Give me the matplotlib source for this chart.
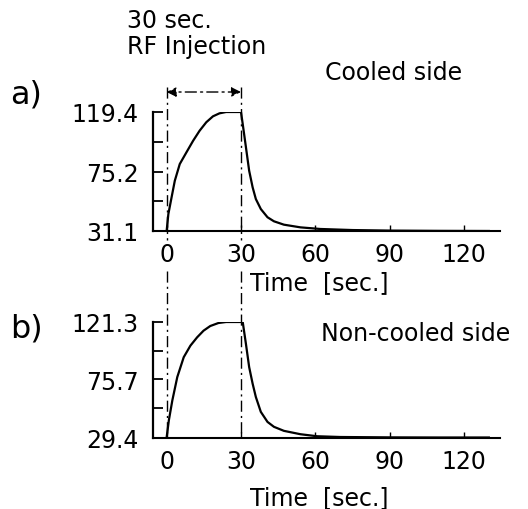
import matplotlib
matplotlib.use('Agg')
import matplotlib.pyplot as plt
from matplotlib.transforms import blended_transform_factory

# temperature traces
t_a = [0, 0.7, 2.0, 3.3, 5.3, 8, 10.7, 13.3, 16, 18.7, 21.3, 24, 30,
       30.7, 32, 33.3, 34.7, 36, 38, 40.7, 43.3, 47.3, 54, 62, 75, 90, 110, 130]
v_a = [31.1, 43.7, 56.1, 68.4, 80.8, 89.5, 98.1, 105.5, 111.8, 116.2, 118.4, 119.4, 119.4,
       110.5, 93.2, 75.8, 63.5, 54.8, 47.4, 41.3, 38.3, 35.8, 33.8, 32.6, 31.8, 31.4, 31.2, 31.1]

t_b = [0, 0.9, 2.3, 4.3, 6.9, 9.6, 12.3, 14.9, 17.6, 20.9, 24, 30.7,
       32, 33.3, 34.7, 36, 38, 40.7, 43.3, 47.3, 54, 60.7, 70, 90, 110, 130]
v_b = [29.4, 43.1, 58.9, 77.5, 93.3, 102.5, 109.1, 114.4, 118.1, 120.5, 121.3, 121.3,
       103.8, 85.4, 72.2, 61.6, 49.8, 41.8, 37.9, 34.7, 32.0, 30.4, 29.8, 29.5, 29.4, 29.4]

yticks_a = [31.1, 53.15, 75.2, 97.3, 119.4]
ylabels_a = ['31.1', '', '75.2', '', '119.4']
yticks_b = [29.4, 52.55, 75.7, 98.5, 121.3]
ylabels_b = ['29.4', '', '75.7', '', '121.3']
xticks = [0, 30, 60, 90, 120]

W, H = 528, 510
fig = plt.figure(figsize=(W / 100, H / 100), dpi=100)
plt.rcParams['font.family'] = 'DejaVu Sans'


def px(x0, y0, x1, y1):
    return [x0 / W, 1 - y1 / H, (x1 - x0) / W, (y1 - y0) / H]


ax_a = fig.add_axes(px(152.5, 113, 500, 232))
ax_b = fig.add_axes(px(152.5, 323, 500, 438.5))

panels = [(ax_a, t_a, v_a, yticks_a, ylabels_a, -0.33),
          (ax_b, t_b, v_b, yticks_b, ylabels_b, -0.41)]
for ax, t, v, yt, yl, ly in panels:
    ax.plot(t, v, color='black', lw=1.6)
    ax.set_xlim(-5.7, 134.5)
    ax.set_ylim(yt[0], yt[-1])
    ax.set_yticks(yt)
    ax.set_yticklabels(yl)
    ax.set_xticks(xticks)
    ax.spines['top'].set_visible(False)
    ax.spines['right'].set_visible(False)
    ax.spines['left'].set_linewidth(1.6)
    ax.spines['bottom'].set_linewidth(1.5)
    ax.tick_params(axis='y', direction='in', length=7, width=1.3, pad=10, labelsize=17)
    ax.tick_params(axis='x', direction='in', length=4, width=1, pad=8, labelsize=17)
    ax.set_xlabel('Time  [sec.]', fontsize=17)
    ax.xaxis.set_label_coords(0.479, ly)
    ax.patch.set_visible(False)

# dash-dot lines marking the RF injection window
tr = blended_transform_factory(ax_a.transData, fig.transFigure)
for x in [0, 30]:
    for y0, y1 in [(88, 241), (272, 438)]:
        fig.add_artist(plt.Line2D([x, x], [1 - y0 / H, 1 - y1 / H], transform=tr,
                                  color='black', lw=1, ls=(0, (8, 3, 1.5, 3))))

tra = blended_transform_factory(ax_a.transData, ax_a.transAxes)
ax_a.annotate('', xy=(0, 1.168), xytext=(30, 1.168), xycoords=tra, textcoords=tra,
              arrowprops=dict(arrowstyle='<|-|>', color='black', lw=1,
                              ls=(0, (8, 3, 1.5, 3)), shrinkA=0, shrinkB=0,
                              mutation_scale=14))

fig.text(127 / W, 1 - 9 / H, '30 sec.\nRF Injection', fontsize=17, ha='left', va='top',
         linespacing=1.12)
fig.text(10 / W, 1 - 104 / H, 'a)', fontsize=23, ha='left', va='baseline')
fig.text(325 / W, 1 - 80 / H, 'Cooled side', fontsize=17, ha='left', va='baseline')
fig.text(10 / W, 1 - 338 / H, 'b)', fontsize=23, ha='left', va='baseline')
fig.text(321 / W, 1 - 341 / H, 'Non-cooled side', fontsize=17, ha='left', va='baseline')

fig.savefig('out.png', dpi=100)
